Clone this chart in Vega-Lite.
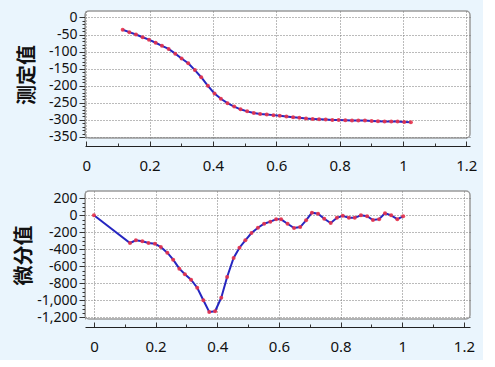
{
  "$schema": "https://vega.github.io/schema/vega-lite/v6.json",
  "background": "#eaf5fd",
  "padding": {"left": 13, "top": 9, "right": 5, "bottom": 5},
  "spacing": 16,
  "config": {
    "view": {"fill": "white", "stroke": "#9a9a9a", "strokeWidth": 1.5, "cornerRadius": 4},
    "axis": {
      "labelFont": "Noto Sans", "labelFontSize": 14, "labelColor": "#111",
      "titleFont": "Noto Sans CJK SC", "titleFontSize": 20, "titleFontWeight": "bold", "titleColor": "#111",
      "gridColor": "#777", "gridDash": [1, 2], "gridWidth": 1,
      "domainColor": "#222", "tickColor": "#333"
    }
  },
  "datasets": {
    "top": [
      {"x": 0.115, "y": -36}, {"x": 0.136, "y": -43}, {"x": 0.157, "y": -50}, {"x": 0.178, "y": -58},
      {"x": 0.198, "y": -65}, {"x": 0.219, "y": -74}, {"x": 0.239, "y": -83}, {"x": 0.260, "y": -92},
      {"x": 0.281, "y": -106}, {"x": 0.301, "y": -120}, {"x": 0.322, "y": -134}, {"x": 0.343, "y": -154},
      {"x": 0.363, "y": -175}, {"x": 0.384, "y": -200}, {"x": 0.405, "y": -223}, {"x": 0.425, "y": -238},
      {"x": 0.446, "y": -251}, {"x": 0.467, "y": -261}, {"x": 0.487, "y": -269}, {"x": 0.508, "y": -275},
      {"x": 0.529, "y": -280}, {"x": 0.549, "y": -283}, {"x": 0.570, "y": -284}, {"x": 0.591, "y": -286},
      {"x": 0.611, "y": -288}, {"x": 0.632, "y": -290}, {"x": 0.653, "y": -292}, {"x": 0.673, "y": -294},
      {"x": 0.694, "y": -296}, {"x": 0.715, "y": -297}, {"x": 0.735, "y": -298}, {"x": 0.756, "y": -299},
      {"x": 0.777, "y": -300}, {"x": 0.797, "y": -300}, {"x": 0.818, "y": -301}, {"x": 0.839, "y": -302},
      {"x": 0.859, "y": -302}, {"x": 0.880, "y": -302}, {"x": 0.901, "y": -303}, {"x": 0.921, "y": -304},
      {"x": 0.942, "y": -305}, {"x": 0.963, "y": -305}, {"x": 0.983, "y": -305}, {"x": 1.004, "y": -306},
      {"x": 1.025, "y": -307}
    ],
    "bottom": [
      {"x": 0, "y": 0}, {"x": 0.117, "y": -326}, {"x": 0.136, "y": -294}, {"x": 0.157, "y": -306},
      {"x": 0.177, "y": -326}, {"x": 0.198, "y": -334}, {"x": 0.217, "y": -373}, {"x": 0.238, "y": -440},
      {"x": 0.257, "y": -522}, {"x": 0.277, "y": -628}, {"x": 0.295, "y": -694}, {"x": 0.315, "y": -757},
      {"x": 0.335, "y": -852}, {"x": 0.355, "y": -1000}, {"x": 0.374, "y": -1138}, {"x": 0.393, "y": -1129},
      {"x": 0.413, "y": -969}, {"x": 0.432, "y": -726}, {"x": 0.453, "y": -502}, {"x": 0.472, "y": -381},
      {"x": 0.491, "y": -294}, {"x": 0.511, "y": -208}, {"x": 0.532, "y": -146}, {"x": 0.552, "y": -99},
      {"x": 0.572, "y": -75}, {"x": 0.591, "y": -47}, {"x": 0.607, "y": -47}, {"x": 0.628, "y": -99},
      {"x": 0.649, "y": -149}, {"x": 0.669, "y": -138}, {"x": 0.688, "y": -59}, {"x": 0.707, "y": 31},
      {"x": 0.727, "y": 19}, {"x": 0.747, "y": -40}, {"x": 0.768, "y": -91}, {"x": 0.788, "y": -30},
      {"x": 0.807, "y": -5}, {"x": 0.827, "y": -30}, {"x": 0.846, "y": -30}, {"x": 0.866, "y": 0},
      {"x": 0.886, "y": -10}, {"x": 0.905, "y": -55}, {"x": 0.925, "y": -45}, {"x": 0.944, "y": 25},
      {"x": 0.964, "y": 0}, {"x": 0.984, "y": -45}, {"x": 1.003, "y": -12}
    ]
  },
  "vconcat": [
    {
      "width": 385, "height": 127,
      "data": {"name": "top"},
      "encoding": {
        "x": {"field": "x", "type": "quantitative",
          "scale": {"domain": [-0.004, 1.2117], "nice": false, "zero": false},
          "axis": {"title": null, "offset": 8, "labelFontSize": 15,
            "values": [0, 0.1, 0.2, 0.3, 0.4, 0.5, 0.6, 0.7, 0.8, 0.9, 1, 1.1, 1.2],
            "labelExpr": "round(datum.value*10)%2==0 ? format(datum.value,'~g') : ''",
            "tickSize": {"condition": {"test": "round(datum.value*10)%2==0", "value": -5}, "value": -3},
            "gridOpacity": {"condition": {"test": "round(datum.value*10)%2==0", "value": 1}, "value": 0},
            "labelPadding": 17, "labelFlush": false}},
        "y": {"field": "y", "type": "quantitative",
          "scale": {"domain": [-353, 19], "nice": false, "zero": false},
          "axis": {"title": "测定值", "titlePadding": 11,
            "values": [-350, -340, -330, -320, -310, -300, -290, -280, -270, -260, -250, -240, -230, -220, -210, -200, -190, -180, -170, -160, -150, -140, -130, -120, -110, -100, -90, -80, -70, -60, -50, -40, -30, -20, -10, 0],
            "labelExpr": "datum.value%50==0 ? (datum.value<0 ? '-' : '') + format(abs(datum.value),'d') : ''",
            "tickSize": {"condition": {"test": "datum.value%50==0", "value": 6}, "value": 3},
            "gridOpacity": {"condition": {"test": "datum.value%50==0", "value": 1}, "value": 0},
            "labelPadding": 2, "domainColor": "#9a9a9a", "labelFlush": false}}
      },
      "layer": [
        {"mark": {"type": "line", "color": "#2626c0", "strokeWidth": 2}},
        {"mark": {"type": "circle", "color": "#e8334a", "size": 16, "opacity": 0.9}}
      ]
    },
    {
      "width": 385, "height": 128,
      "data": {"name": "bottom"},
      "encoding": {
        "x": {"field": "x", "type": "quantitative",
          "scale": {"domain": [-0.029, 1.2198], "nice": false, "zero": false},
          "axis": {"title": null, "offset": 8, "labelFontSize": 15,
            "values": [0, 0.1, 0.2, 0.3, 0.4, 0.5, 0.6, 0.7, 0.8, 0.9, 1, 1.1, 1.2],
            "labelExpr": "round(datum.value*10)%2==0 ? format(datum.value,'~g') : ''",
            "tickSize": {"condition": {"test": "round(datum.value*10)%2==0", "value": -5}, "value": -3},
            "gridOpacity": {"condition": {"test": "round(datum.value*10)%2==0", "value": 1}, "value": 0},
            "labelPadding": 17, "labelFlush": false}},
        "y": {"field": "y", "type": "quantitative",
          "scale": {"domain": [-1220, 286], "nice": false, "zero": false},
          "axis": {"title": "微分值", "titlePadding": 2,
            "values": [-1200, -1150, -1100, -1050, -1000, -950, -900, -850, -800, -750, -700, -650, -600, -550, -500, -450, -400, -350, -300, -250, -200, -150, -100, -50, 0, 50, 100, 150, 200],
            "labelExpr": "datum.value%200==0 ? (datum.value<0 ? '-' : '') + format(abs(datum.value),',') : ''",
            "tickSize": {"condition": {"test": "datum.value%200==0", "value": 6}, "value": 3},
            "gridOpacity": {"condition": {"test": "datum.value%200==0", "value": 1}, "value": 0},
            "labelPadding": 2, "domainColor": "#9a9a9a", "labelFlush": false}}
      },
      "layer": [
        {"mark": {"type": "line", "color": "#2626c0", "strokeWidth": 2}},
        {"mark": {"type": "circle", "color": "#e8334a", "size": 16, "opacity": 0.9}}
      ]
    }
  ]
}
